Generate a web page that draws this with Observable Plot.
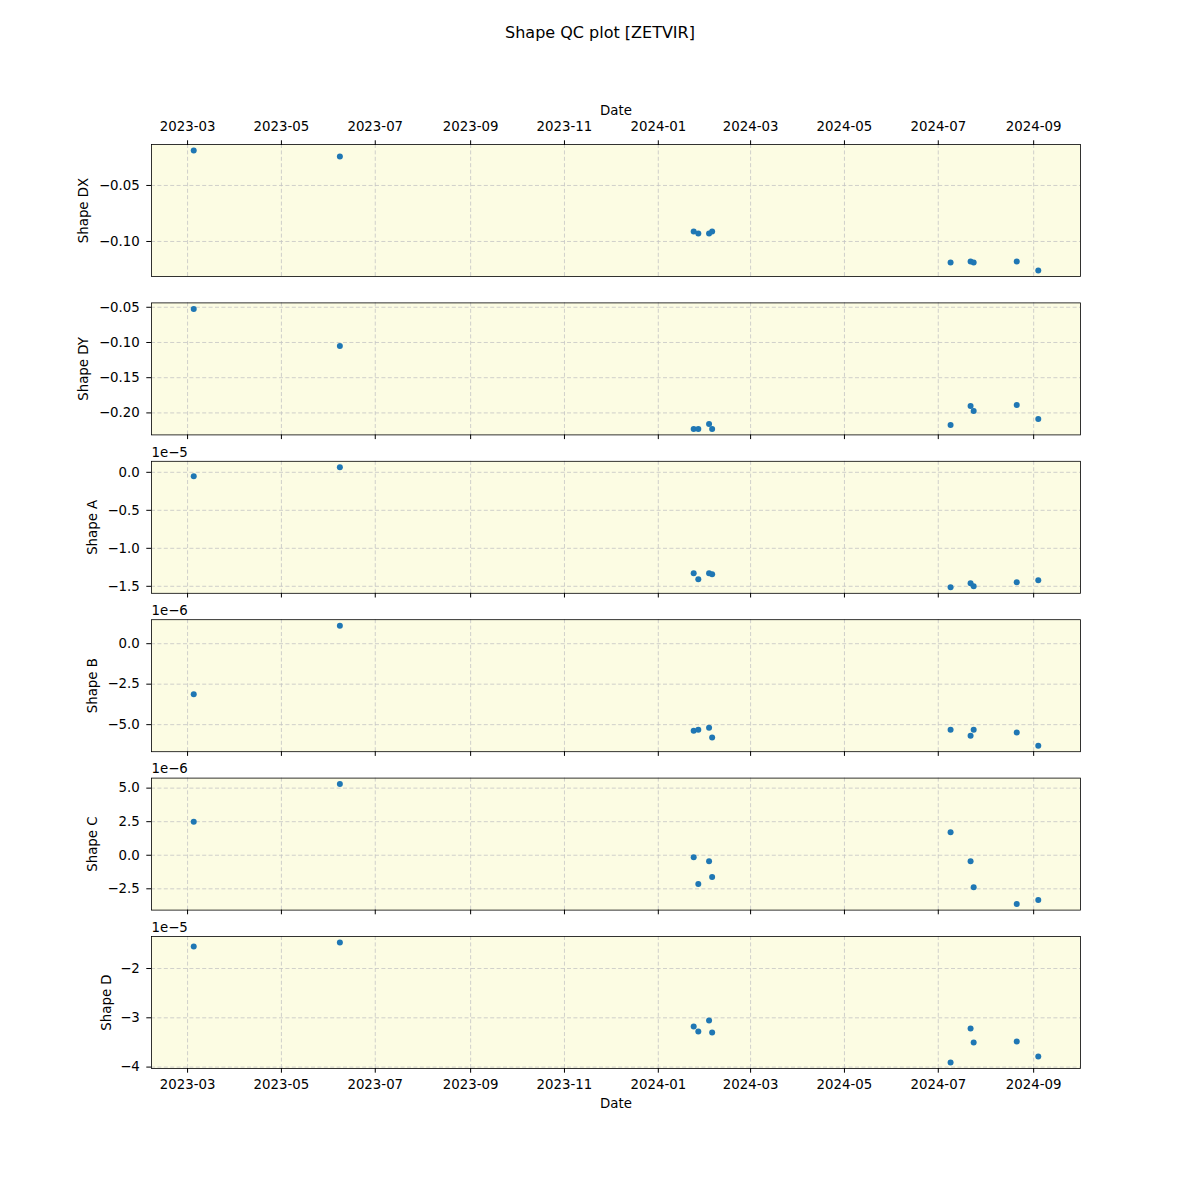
<!DOCTYPE html>
<html><head><meta charset="utf-8">
<script src="https://cdn.jsdelivr.net/npm/d3@7"></script>
<script src="https://cdn.jsdelivr.net/npm/@observablehq/plot@0.6"></script>
<style>
body{margin:0;background:#fff;font-family:"DejaVu Sans",sans-serif;}
#wrap{position:relative;width:1200px;height:1200px;}
#wrap svg{position:absolute;left:0;top:0;}
#title{position:absolute;top:23px;left:0;width:1200px;text-align:center;font-size:16px;color:#000;}
</style></head><body>
<div id="wrap"><div id="title">Shape QC plot [ZETVIR]</div></div>
<script>
// ---- data ----
const dates = ["2023-03-05","2023-06-08","2024-01-24","2024-01-27","2024-02-03","2024-02-05","2024-07-09","2024-07-22","2024-07-24","2024-08-21","2024-09-04"];
const shapeDX = [-0.0188,-0.0241,-0.0911,-0.0929,-0.0929,-0.0911,-0.1188,-0.1179,-0.1188,-0.1179,-0.1259];
const shapeDY = [-0.0523,-0.1051,-0.2227,-0.2227,-0.2156,-0.2227,-0.2170,-0.1901,-0.1972,-0.1886,-0.2085];
const shapeA = [-0.053e-5,0.066e-5,-1.329e-5,-1.408e-5,-1.329e-5,-1.342e-5,-1.513e-5,-1.461e-5,-1.500e-5,-1.447e-5,-1.421e-5];
const shapeB = [-3.117e-6,1.111e-6,-5.37e-6,-5.31e-6,-5.19e-6,-5.80e-6,-5.31e-6,-5.68e-6,-5.31e-6,-5.49e-6,-6.30e-6];
const shapeC = [2.50e-6,5.30e-6,-0.15e-6,-2.15e-6,-0.45e-6,-1.63e-6,1.71e-6,-0.45e-6,-2.38e-6,-3.64e-6,-3.34e-6];
const shapeD = [-1.553e-5,-1.472e-5,-3.175e-5,-3.277e-5,-3.053e-5,-3.297e-5,-3.907e-5,-3.216e-5,-3.500e-5,-3.48e-5,-3.785e-5];
const xTickLabels = ["2023-03","2023-05","2023-07","2023-09","2023-11","2024-01","2024-03","2024-05","2024-07","2024-09"];
const ticksDX = [-0.05,-0.10];
const ticksDY = [-0.05,-0.10,-0.15,-0.20];
const ticksA = [0,-0.5e-5,-1.0e-5,-1.5e-5];
const ticksB = [0,-2.5e-6,-5.0e-6];
const ticksC = [5.0e-6,2.5e-6,0,-2.5e-6];
const ticksD = [-2e-5,-3e-5,-4e-5];
const panelLabels = ["Shape DX","Shape DY","Shape A","Shape B","Shape C","Shape D"];
const offsetTexts = [null,null,"1e\u22125","1e\u22126","1e\u22126","1e\u22125"];
const scaleFactors = [1,1,1e-5,1e-6,1e-6,1e-5];
const decimals = [2,2,1,1,1,0];

// ---- build ----
const parsed = dates.map(d => new Date(d + "T00:00:00Z"));
const xTicks = xTickLabels.map(s => new Date(s + "-01T00:00:00Z"));
const xmin = d3.min(parsed), xmax = d3.max(parsed);
const xpad = (xmax - xmin) * 0.05;
const xDomain = [new Date(+xmin - xpad), new Date(+xmax + xpad)];

const series = [shapeDX, shapeDY, shapeA, shapeB, shapeC, shapeD];
const tickSets = [ticksDX, ticksDY, ticksA, ticksB, ticksC, ticksD];
const labelDx = [-68,-68,-59,-59,-59,-45];

const wrap = document.getElementById("wrap");
const bgFill = "#fcfce3";
const gridStyle = {stroke: "#c4c4c4", strokeOpacity: 1, strokeWidth: 0.8, strokeDasharray: "4,2.4"};
const n = series.length;

series.forEach((vals, i) => {
  const rows = vals.map((v, k) => ({date: parsed[k], value: v}));
  const lo = d3.min(vals), hi = d3.max(vals);
  const pad = (hi - lo) * 0.05;
  const top = 144 + i * 158.4;
  const bottom = top + 132;
  const sf = scaleFactors[i], dec = decimals[i];
  const fmt = d => {
    let s = (d / sf).toFixed(dec);
    if (/^-0(\.0+)?$/.test(s)) s = s.slice(1);
    return s.replace("-", "\u2212");
  };
  const marks = [
    Plot.frame({fill: bgFill}),
    Plot.gridX(xTicks, gridStyle),
    Plot.gridY(tickSets[i], gridStyle),
    Plot.dot(rows, {x: "date", y: "value", r: 3, fill: "#1f77b4", stroke: "none"}),
    Plot.frame({stroke: "#000", strokeWidth: 0.8}),
    Plot.axisY({ticks: tickSets[i], tickFormat: fmt, tickSize: 4.7, tickPadding: 7, label: null}),
    Plot.text([panelLabels[i]], {frameAnchor: "left", textAnchor: "middle", lineAnchor: "middle", dx: labelDx[i], rotate: -90, fontSize: 13.33})
  ];
  if (i === 0) {
    marks.push(Plot.axisX({anchor: "top", ticks: xTicks, tickFormat: d3.utcFormat("%Y-%m"), tickSize: 4.7, tickPadding: 9, label: null}));
    marks.push(Plot.text(["Date"], {frameAnchor: "top", textAnchor: "middle", lineAnchor: "middle", dy: -34, fontSize: 13.33}));
  } else if (i === n - 1) {
    marks.push(Plot.axisX({anchor: "bottom", ticks: xTicks, tickFormat: d3.utcFormat("%Y-%m"), tickSize: 4.7, tickPadding: 6, label: null}));
    marks.push(Plot.text(["Date"], {frameAnchor: "bottom", textAnchor: "middle", lineAnchor: "middle", dy: 35, fontSize: 13.33}));
  } else {
    marks.push(Plot.axisX({anchor: "bottom", ticks: xTicks, tickFormat: () => "", tickSize: 4.7, label: null}));
  }
  if (offsetTexts[i]) {
    marks.push(Plot.text([offsetTexts[i]], {frameAnchor: "top-left", textAnchor: "start", lineAnchor: "middle", dy: -9, fontSize: 13.33}));
  }
  const svg = Plot.plot({
    width: 1200, height: 1200,
    marginLeft: 151, marginRight: 120,
    marginTop: top, marginBottom: 1200 - bottom,
    style: {fontFamily: "DejaVu Sans", fontSize: "13.33px", color: "#000", background: "transparent", overflow: "visible"},
    x: {type: "utc", domain: xDomain},
    y: {domain: [lo - pad, hi + pad]},
    marks
  });
  wrap.appendChild(svg);
});
</script>
</body></html>
